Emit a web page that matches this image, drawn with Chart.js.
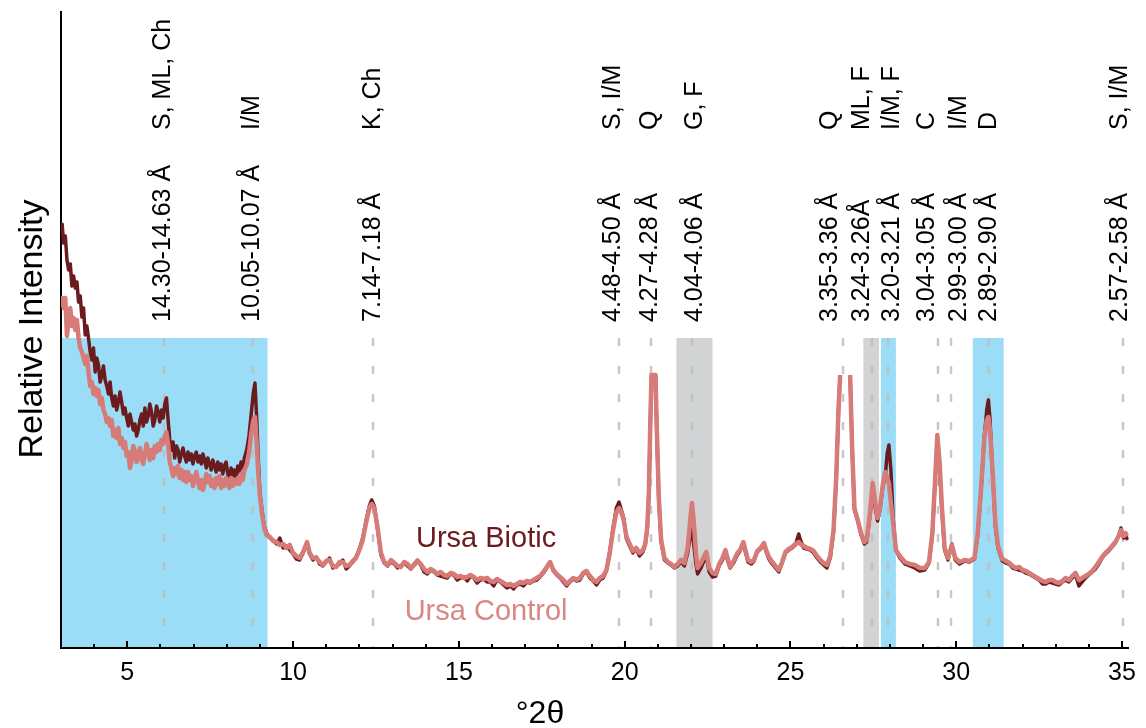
<!DOCTYPE html>
<html>
<head>
<meta charset="utf-8">
<script src="https://cdn.jsdelivr.net/npm/chart.js@4.4.1/dist/chart.umd.min.js"></script>
<style>
  html, body { margin: 0; padding: 0; background: #fff; }
  canvas { display: block; }
</style>
</head>
<body>
<canvas id="xrd" width="1146" height="728"></canvas>
<script>
// °2θ positions shared by both patterns
const twoTheta = [
  3.03, 3.08, 3.13, 3.18, 3.23, 3.28, 3.33, 3.38, 3.43, 3.48,
  3.53, 3.58, 3.63, 3.68, 3.73, 3.78, 3.83, 3.88, 3.93, 3.98,
  4.03, 4.08, 4.13, 4.18, 4.23, 4.28, 4.33, 4.38, 4.43, 4.48,
  4.53, 4.58, 4.63, 4.68, 4.73, 4.78, 4.83, 4.88, 4.93, 4.98,
  5.03, 5.08, 5.13, 5.18, 5.23, 5.28, 5.33, 5.38, 5.43, 5.48,
  5.53, 5.58, 5.63, 5.68, 5.73, 5.78, 5.83, 5.88, 5.93, 5.98,
  6.03, 6.08, 6.13, 6.18, 6.23, 6.28, 6.33, 6.38, 6.43, 6.48,
  6.53, 6.58, 6.63, 6.68, 6.73, 6.78, 6.83, 6.88, 6.93, 6.98,
  7.03, 7.08, 7.13, 7.18, 7.23, 7.28, 7.33, 7.38, 7.43, 7.48,
  7.53, 7.58, 7.63, 7.68, 7.73, 7.78, 7.83, 7.88, 7.93, 7.98,
  8.03, 8.08, 8.13, 8.18, 8.23, 8.28, 8.33, 8.38, 8.43, 8.48,
  8.53, 8.6, 8.67, 8.74, 8.8, 8.85, 8.9, 8.95, 9.0, 9.06,
  9.13, 9.2, 9.3, 9.4,
  9.5, 9.6, 9.7, 9.8, 9.9, 10.0, 10.1, 10.2, 10.3, 10.42,
  10.5, 10.6, 10.7, 10.8, 10.9, 11.0, 11.1, 11.2, 11.3, 11.4,
  11.5, 11.6, 11.7, 11.8, 11.9, 12.0, 12.1, 12.2, 12.3, 12.37,
  12.45, 12.55, 12.65, 12.75, 12.85, 12.95, 13.05, 13.15, 13.25, 13.35,
  13.45, 13.55, 13.65, 13.75, 13.85, 13.95, 14.05, 14.15, 14.25, 14.35,
  14.45, 14.55, 14.65, 14.75, 14.85, 14.95, 15.05, 15.15, 15.25, 15.35,
  15.45, 15.55, 15.65, 15.75, 15.85, 15.95, 16.05, 16.15, 16.25, 16.35,
  16.45, 16.55, 16.65, 16.75, 16.85, 16.95, 17.05, 17.15, 17.25, 17.35,
  17.45, 17.55, 17.65, 17.75, 17.85, 17.95, 18.05, 18.15, 18.25, 18.35,
  18.45, 18.55, 18.65, 18.75, 18.85, 18.95, 19.05, 19.15, 19.25, 19.35,
  19.45, 19.55, 19.65, 19.75, 19.83, 19.9, 19.97, 20.05, 20.15, 20.25,
  20.35, 20.45, 20.55, 20.62, 20.68, 20.73, 20.77, 20.81, 20.93, 20.97,
  21.03, 21.1, 21.2, 21.3, 21.4, 21.5, 21.6, 21.7, 21.8, 21.9,
  21.97, 22.03, 22.08, 22.15, 22.2, 22.3, 22.4, 22.46, 22.55, 22.65,
  22.75, 22.85, 22.95, 23.04, 23.1, 23.18, 23.3, 23.4, 23.48, 23.58,
  23.65, 23.72, 23.82, 23.9, 24.0, 24.1, 24.2, 24.27, 24.35, 24.45,
  24.55, 24.65, 24.75, 24.85, 24.95, 25.05, 25.15, 25.25, 25.3, 25.4,
  25.5, 25.6, 25.7, 25.8, 25.9, 26.0, 26.1, 26.2, 26.3, 26.38,
  26.45, 26.5, 26.65, 26.8, 26.86, 26.93, 27.03, 27.13, 27.23, 27.3,
  27.4, 27.48, 27.56, 27.63, 27.7, 27.78, 27.86, 27.92, 27.97, 28.03,
  28.1, 28.18, 28.3, 28.45, 28.6, 28.75, 28.9, 29.05, 29.18, 29.28,
  29.35, 29.43, 29.5, 29.57, 29.65, 29.75, 29.87, 29.97, 30.1, 30.25,
  30.4, 30.55, 30.65, 30.75, 30.85, 30.92, 30.97, 31.02, 31.1, 31.18,
  31.26, 31.39, 31.5, 31.6, 31.7, 31.8, 31.9, 32.0, 32.1, 32.2,
  32.3, 32.4, 32.5, 32.6, 32.7, 32.8, 32.9, 33.0, 33.1, 33.2,
  33.3, 33.4, 33.5, 33.6, 33.7, 33.8, 33.9, 34.0, 34.1, 34.2,
  34.3, 34.4, 34.5, 34.6, 34.7, 34.8, 34.9, 34.97, 35.05, 35.1,
  35.17
];

// Ursa Control (pink); peaks above the plot are clipped, null = off scale
const controlIntensity = [
  352, 340, 350, 312, 330, 340, 322, 330, 318, 328,
  310, 300, 296, 290, 284, 292, 276, 262, 266, 254,
  260, 252, 258, 244, 250, 238, 234, 226, 230, 222,
  228, 212, 218, 210, 220, 204, 210, 200, 206, 192,
  196, 180, 188, 202, 196, 186, 194, 200, 188, 184,
  194, 204, 196, 188, 198, 190, 202, 196, 204, 198,
  208, 204, 212, 216, 204, 186, 180, 172, 180, 174,
  182, 170, 178, 168, 176, 166, 176, 168, 172, 162,
  170, 176, 168, 160, 168, 158, 164, 174, 166, 172,
  162, 168, 160, 170, 164, 172, 160, 168, 162, 170,
  166, 160, 170, 162, 168, 164, 170, 164, 174, 168,
  178, 183, 195, 215, 228, 231, 205, 175, 152, 135,
  120, 113, 111, 107,
  106, 103, 104, 100, 103, 95, 92, 90, 96, 106,
  95, 90, 90, 86, 83, 87, 88, 82, 81, 86,
  86, 82, 83, 87, 90, 98, 108, 125, 140, 144,
  140, 120, 95, 86, 83, 88, 85, 82, 81, 86,
  84, 80, 83, 87, 84, 79, 76, 79, 77, 74,
  76, 73, 72, 75, 74, 71, 72, 70, 71, 73,
  71, 68, 70, 69, 70, 67, 66, 69, 67, 65,
  63, 64, 62, 64, 66, 65, 67, 66, 68, 70,
  72, 76, 81, 86, 78, 74, 71, 68, 64, 67,
  70, 68, 70, 75, 77, 72, 68, 66, 70, 72,
  78, 95, 118, 136, 140, 136, 128, 112, 104, 97,
  100, 95, 98, 104, 120, 155, 220, 273, 273, 218,
  150, 108, 90, 86, 84, 81, 84, 88, 85, 100,
  125, 145, 128, 95, 80, 85, 92, 96, 80, 75,
  74, 84, 90, 98, 90, 81, 88, 95, 98, 106,
  97, 88, 86, 88, 97, 100, 105, 98, 91, 86,
  82, 78, 86, 96, 99, 101, 104, 106, 104, 102,
  100, 99, 97, 92, 88, 85, 83, 92, 118, 170,
  240, 273, null, 273, 201, 140, 128, 115, 106, 108,
  135, 165, 145, 130, 140, 162, 176, 170, 165, 145,
  125, 98, 92, 86, 84, 83, 80, 80, 86, 115,
  160, 213, 185, 140, 100, 90, 103, 90, 86, 88,
  87, 90, 115, 160, 210, 228, 231, 218, 175, 125,
  102, 89, 87, 85, 82, 80, 81, 78, 77, 75,
  73, 71, 69, 67, 66, 68, 68, 66, 65, 67,
  70, 68, 72, 75, 68, 70, 72, 74, 77, 81,
  86, 91, 95, 98, 102, 106, 112, 118, 112, 115,
  112
];

// Ursa Biotic (dark red)
const bioticIntensity = [
  425, 405, 412, 388, 378, 384, 362, 372, 360, 366,
  346, 352, 331, 340, 313, 322, 310, 296, 288, 300,
  276, 290, 283, 266, 272, 282, 268, 262, 254, 266,
  250, 242, 252, 238, 246, 256, 246, 234, 240, 230,
  222, 234, 226, 218, 224, 212, 218, 228, 234, 222,
  240, 226, 232, 244, 236, 222, 228, 242, 236, 226,
  238, 230, 244, 250, 228, 208, 198, 206, 190, 202,
  198, 186, 194, 200, 192, 186, 196, 188, 194, 184,
  192, 196, 186, 192, 184, 194, 188, 180, 190, 184,
  178, 188, 182, 176, 186, 178, 184, 174, 182, 186,
  174, 168, 180, 172, 178, 170, 182, 176, 186, 180,
  190, 198, 212, 235, 255, 265, 231, 188, 155, 138,
  122, 115, 110, 108,
  104, 110, 100, 102, 98, 94, 89, 88, 95, 104,
  94, 88, 91, 84, 82, 86, 90, 80, 82, 84,
  88, 79, 82, 86, 91, 99, 110, 127, 142, 148,
  142, 118, 93, 85, 82, 86, 84, 80, 82, 85,
  82, 79, 84, 88, 83, 76, 74, 78, 76, 73,
  72, 71, 70, 74, 73, 68, 70, 71, 67, 72,
  70, 65, 68, 69, 66, 66, 62, 68, 66, 63,
  60, 62, 59, 63, 64, 62, 66, 65, 67, 68,
  71, 75, 80, 86, 77, 73, 70, 66, 62, 66,
  69, 67, 68, 74, 76, 70, 67, 63, 68, 70,
  77, 96, 120, 140, 146, 138, 130, 110, 102, 95,
  99, 92, 96, 103, 118, 152, 218, 273, 273, 216,
  148, 106, 88, 85, 83, 80, 82, 86, 82, 95,
  110, 120, 105, 84, 74, 80, 88, 92, 76, 71,
  72, 82, 88, 96, 88, 80, 86, 93, 97, 105,
  95, 86, 84, 87, 96, 99, 104, 96, 89, 84,
  80, 76, 85, 95, 98, 100, 103, 114, 108, 100,
  99, 98, 95, 90, 86, 83, 80, 90, 116, 168,
  238, 273, null, 273, 201, 138, 127, 113, 104, 106,
  133, 160, 140, 127, 138, 160, 172, 195, 203, 178,
  128, 98, 90, 84, 82, 80, 77, 78, 85, 113,
  158, 210, 180, 136, 98, 88, 104, 88, 84, 87,
  86, 89, 113, 158, 212, 238, 248, 228, 172, 122,
  100, 87, 85, 84, 80, 79, 78, 77, 75, 74,
  72, 70, 68, 64, 64, 66, 65, 64, 63, 66,
  68, 66, 70, 73, 62, 66, 70, 73, 76, 79,
  84, 90, 94, 97, 101, 105, 112, 120, 110, 114,
  108
];

// reflections: dashed line position, label column, d-spacing, mineral
const peakLines = [6.12, 8.79, 12.42, 19.82, 20.79, 22.03, 26.59, 27.47, 27.93, 29.45, 29.85, 30.99, 35.04];
const labelColumns = [6.07, 8.75, 12.42, 19.64, 20.76, 22.11, 26.2, 27.16, 28.07, 29.12, 30.08, 30.99, 34.93];
const dSpacings = ['14.30-14.63 Å', '10.05-10.07 Å', '7.14-7.18 Å', '4.48-4.50 Å', '4.27-4.28 Å', '4.04-4.06 Å',
  '3.35-3.36 Å', '3.24-3.26Å', '3.20-3.21 Å', '3.04-3.05 Å', '2.99-3.00 Å', '2.89-2.90 Å', '2.57-2.58 Å'];
const minerals = ['S, ML, Ch', 'I/M', 'K, Ch', 'S, I/M', 'Q', 'G, F', 'Q', 'ML, F', 'I/M, F', 'C', 'I/M', 'D', 'S, I/M'];

const blueBands = [[3, 9.23], [27.73, 28.18], [30.5, 31.43]];
const greyBands = [[21.56, 22.65], [27.2, 27.67]];
const xTickLabels = [5, 10, 15, 20, 25, 30, 35];

const FONT = "'Liberation Sans', Arial, Helvetica, sans-serif";
const BIOTIC = '#6b1a1e';
const CONTROL = '#d67b78';

function toPoints(values) {
  return values.map((v, i) => ({ x: twoTheta[i], y: v }));
}

const decor = {
  id: 'decor',
  beforeDraw(chart) {
    const { ctx, chartArea, scales: { x, y } } = chart;
    const top = y.getPixelForValue(310);
    const bottom = chartArea.bottom;
    ctx.save();
    ctx.fillStyle = '#9bddf6';
    blueBands.forEach(b => {
      const x1 = Math.max(x.getPixelForValue(b[0]), chartArea.left);
      ctx.fillRect(x1, top, x.getPixelForValue(b[1]) - x1, bottom - top);
    });
    ctx.fillStyle = '#d2d3d5';
    greyBands.forEach(b => {
      const x1 = x.getPixelForValue(b[0]);
      ctx.fillRect(x1, top, x.getPixelForValue(b[1]) - x1, bottom - top);
    });
    // dashed reflection lines
    ctx.strokeStyle = 'rgba(190,190,190,0.85)';
    ctx.lineWidth = 2.5;
    ctx.setLineDash([8, 20]);
    peakLines.forEach(p => {
      const px = Math.round(x.getPixelForValue(p));
      ctx.beginPath();
      ctx.moveTo(px, top);
      ctx.lineTo(px, bottom);
      ctx.stroke();
    });
    ctx.restore();
  },
  afterDraw(chart) {
    const { ctx, chartArea, scales: { x, y } } = chart;
    ctx.save();
    // inward tick marks
    ctx.strokeStyle = '#000';
    ctx.lineWidth = 2;
    for (let v = 4; v <= 35; v++) {
      const px = Math.round(x.getPixelForValue(v));
      const len = v % 5 === 0 ? 7 : 4;
      ctx.beginPath();
      ctx.moveTo(px, chartArea.bottom);
      ctx.lineTo(px, chartArea.bottom - len);
      ctx.stroke();
    }

    // rotated reflection labels
    ctx.fillStyle = '#000';
    ctx.font = '25px ' + FONT;
    ctx.textAlign = 'left';
    ctx.textBaseline = 'middle';
    labelColumns.forEach((c, i) => {
      const px = x.getPixelForValue(c);
      [[dSpacings[i], 322], [minerals[i], 130]].forEach(([txt, py]) => {
        ctx.save();
        ctx.translate(px, py);
        ctx.rotate(-Math.PI / 2);
        ctx.fillText(txt, 0, 0);
        ctx.restore();
      });
    });

    // series names
    ctx.font = '29px ' + FONT;
    ctx.textAlign = 'center';
    ctx.textBaseline = 'alphabetic';
    ctx.fillStyle = BIOTIC;
    ctx.fillText('Ursa Biotic', x.getPixelForValue(15.82), y.getPixelForValue(101));
    ctx.fillStyle = '#d98784';
    ctx.fillText('Ursa Control', x.getPixelForValue(15.82), y.getPixelForValue(28));

    // axis titles
    ctx.fillStyle = '#000';
    ctx.font = '32px ' + FONT;
    ctx.fillText('°2θ', 540, 723);
    ctx.font = '34px ' + FONT;
    ctx.save();
    ctx.translate(42, 329);
    ctx.rotate(-Math.PI / 2);
    ctx.fillText('Relative Intensity', 0, 0);
    ctx.restore();
    ctx.restore();
  }
};

new Chart(document.getElementById('xrd'), {
  type: 'line',
  data: {
    datasets: [
      { label: 'Ursa Control', data: toPoints(controlIntensity), borderColor: CONTROL, borderWidth: 4.5, pointRadius: 0, spanGaps: false },
      { label: 'Ursa Biotic', data: toPoints(bioticIntensity), borderColor: BIOTIC, borderWidth: 3.5, pointRadius: 0, spanGaps: false }
    ]
  },
  options: {
    responsive: false,
    animation: false,
    devicePixelRatio: 1,
    layout: { padding: { left: 61, right: 15, top: 12, bottom: 0 } },
    elements: { line: { tension: 0, borderJoinStyle: 'round' } },
    plugins: { legend: { display: false }, tooltip: { enabled: false } },
    scales: {
      x: {
        type: 'linear',
        min: 3,
        max: 35.2,
        grid: { display: false, drawTicks: false },
        border: { color: '#000', width: 2 },
        ticks: {
          stepSize: 1,
          includeBounds: false,
          autoSkip: false,
          maxRotation: 0,
          padding: 10,
          color: '#000',
          font: { family: FONT, size: 25 },
          callback: v => xTickLabels.includes(v) ? String(v) : ''
        },
        afterFit: s => { s.height = 80; }
      },
      y: {
        min: 0,
        max: 636,
        grid: { display: false, drawTicks: false },
        border: { color: '#000', width: 2 },
        ticks: { display: false }
      }
    }
  },
  plugins: [decor]
});
</script>
</body>
</html>
